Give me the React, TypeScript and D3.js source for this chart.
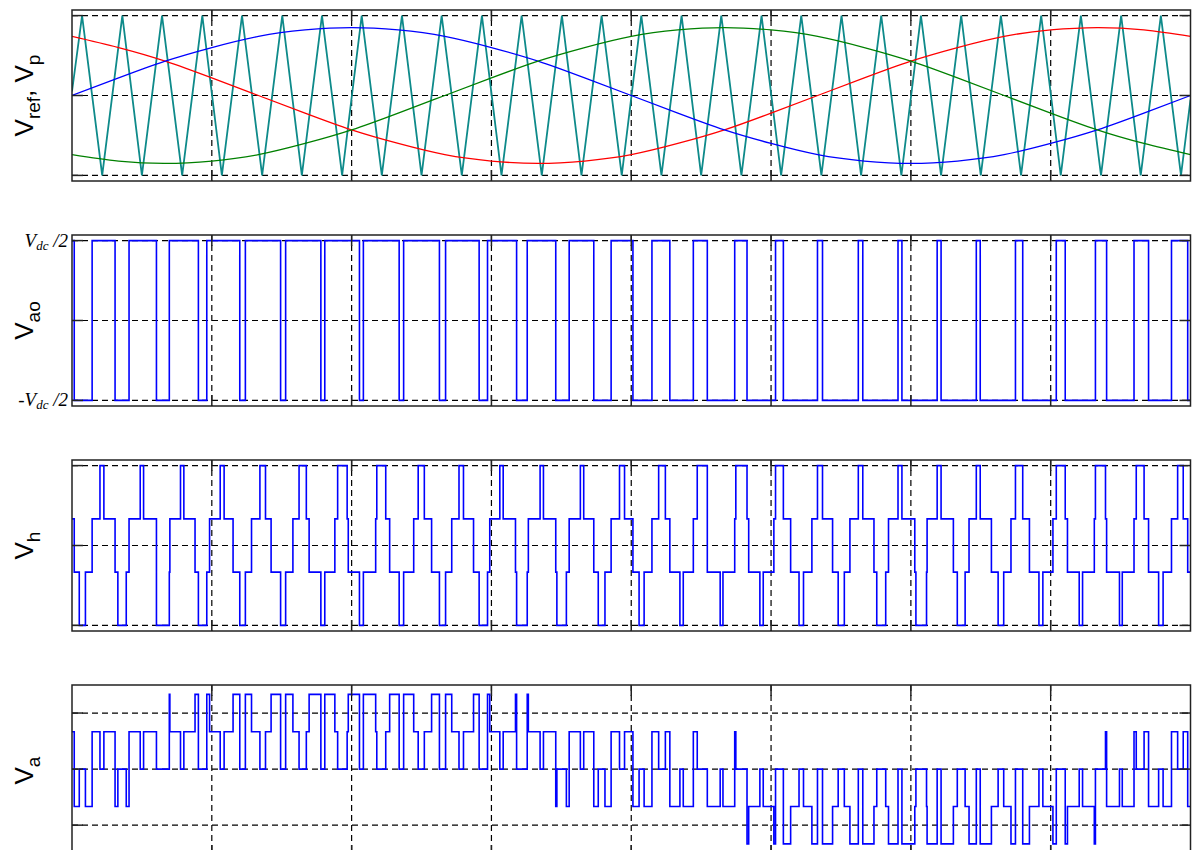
import React from "react";
import * as d3 from "d3";

// ---------- axes ----------
const T_END = 20; // ms, one fundamental period
const X_TICKS = [0, 2.5, 5, 7.5, 10, 12.5, 15, 17.5, 20];
const Y_TICKS = [-1, 0, 1];

// ---------- panel 1 : references and carrier ----------
const REF_ANGLES = [0, 15, 30, 45, 60, 75, 90, 105, 120, 135, 150, 165, 180, 195, 210, 225, 240, 255, 270, 285, 300, 315, 330, 345, 360];
const REF_BLUE = [0, 0.22, 0.43, 0.6, 0.74, 0.82, 0.85, 0.82, 0.74, 0.6, 0.43, 0.22, 0, -0.22, -0.43, -0.6, -0.74, -0.82, -0.85, -0.82, -0.74, -0.6, -0.43, -0.22, 0];
const REF_RED = [0.74, 0.6, 0.43, 0.22, 0, -0.22, -0.43, -0.6, -0.74, -0.82, -0.85, -0.82, -0.74, -0.6, -0.43, -0.22, 0, 0.22, 0.43, 0.6, 0.74, 0.82, 0.85, 0.82, 0.74];
const REF_GREEN = [-0.74, -0.82, -0.85, -0.82, -0.74, -0.6, -0.43, -0.22, 0, 0.22, 0.43, 0.6, 0.74, 0.82, 0.85, 0.82, 0.74, 0.6, 0.43, 0.22, 0, -0.22, -0.43, -0.6, -0.74];
const CARRIER_PEAKS = [0.18, 0.9, 1.61, 2.33, 3.04, 3.76, 4.47, 5.18, 5.9, 6.61, 7.33, 8.04, 8.76, 9.47, 10.18, 10.9, 11.61, 12.33, 13.04, 13.76, 14.47, 15.18, 15.9, 16.61, 17.33, 18.04, 18.76, 19.47];
const CARRIER_VALLEYS = [0.54, 1.25, 1.97, 2.68, 3.4, 4.11, 4.83, 5.54, 6.25, 6.97, 7.68, 8.4, 9.11, 9.83, 10.54, 11.25, 11.97, 12.68, 13.4, 14.11, 14.83, 15.54, 16.25, 16.97, 17.68, 18.4, 19.11, 19.83];
const CARRIER_START = 0.05;
const CARRIER_END = -0.05;

// ---------- leg switching: intervals (ms) where the leg sits at -Vdc/2 ----------
// leg a (blue reference) = V_ao of panel 2
const VAO_LOW: [number, number][] = [
  [0.04, 0.36], [0.77, 1.02], [1.51, 1.74], [2.26, 2.41], [3.0, 3.1], [3.73, 3.82], [4.45, 4.52],
  [5.14, 5.21], [5.85, 5.93], [6.57, 6.68], [7.28, 7.43], [7.95, 8.14], [8.65, 8.89], [9.33, 9.64],
  [10.03, 10.37], [10.69, 11.11], [11.36, 11.85], [12.07, 12.58], [12.72, 13.33], [13.42, 14.06],
  [14.14, 14.77], [14.84, 15.47], [15.54, 16.17], [16.24, 16.87], [17.0, 17.6], [17.76, 18.3],
  [18.5, 18.99], [19.25, 19.66], [19.95, 20],
];
// leg b (red reference crossings)
const VBO_LOW: [number, number][] = [
  [0.13, 0.24], [0.82, 0.97], [1.51, 1.75], [2.2, 2.46], [2.88, 3.21], [3.56, 3.95], [4.24, 4.7],
  [4.92, 5.45], [5.61, 6.19], [6.3, 6.92], [7.0, 7.65], [7.71, 8.37], [8.43, 9.09], [9.15, 9.79],
  [9.88, 10.49], [10.61, 11.18], [11.36, 11.87], [12.1, 12.55], [12.85, 13.23], [13.6, 13.91],
  [14.34, 14.6], [15.09, 15.28], [15.83, 15.97], [16.56, 16.66], [17.29, 17.36], [18.01, 18.07],
  [18.73, 18.78], [19.43, 19.51],
];
// leg c (green reference crossings)
const VCO_LOW: [number, number][] = [
  [0, 0.5], [0.57, 1.22], [1.28, 1.94], [2.0, 2.65], [2.72, 3.36], [3.46, 4.06], [4.19, 4.75],
  [4.94, 5.43], [5.68, 6.11], [6.43, 6.79], [7.18, 7.47], [7.93, 8.16], [8.67, 8.84], [9.41, 9.53],
  [10.14, 10.23], [10.87, 10.93], [11.59, 11.64], [12.3, 12.36], [13.0, 13.08], [13.7, 13.81],
  [14.39, 14.55], [15.07, 15.29], [15.76, 16.04], [16.44, 16.79], [17.12, 17.54], [17.8, 18.28],
  [18.48, 19.03], [19.17, 19.77], [19.87, 20],
];

const PANEL_TOPS = [10, 235, 460, 685];
const PANEL_H = 171;
const LEFT = 72;
const RIGHT = 1190.5;

type Pt = [number, number];

const legState = (lows: [number, number][], t: number) =>
  lows.some(([a, b]) => t >= a && t < b) ? -1 : 1;

// piecewise-constant segments of the three legs
function legSegments() {
  const times = Array.from(
    new Set([0, T_END, ...VAO_LOW.flat(), ...VBO_LOW.flat(), ...VCO_LOW.flat()])
  )
    .filter((t) => t >= 0 && t <= T_END)
    .sort(d3.ascending);
  return times.slice(0, -1).map((t0, i) => {
    const tm = (t0 + times[i + 1]) / 2;
    return {
      t: t0,
      a: legState(VAO_LOW, tm),
      b: legState(VBO_LOW, tm),
      c: legState(VCO_LOW, tm),
    };
  });
}

function Panel({ idx, yDomain, children, label, tickLabels }: any) {
  const top = PANEL_TOPS[idx];
  const x = d3.scaleLinear().domain([0, T_END]).range([LEFT, RIGHT]);
  const y = d3.scaleLinear().domain(yDomain).range([top + PANEL_H, top]);
  const clipId = `clip${idx}`;
  const tickLen = 11;
  return (
    <g>
      <defs>
        <clipPath id={clipId}>
          <rect x={LEFT} y={top} width={RIGHT - LEFT} height={PANEL_H} />
        </clipPath>
      </defs>
      <g stroke="#000" strokeWidth={1.2} strokeDasharray="6,4">
        {X_TICKS.slice(1, -1).map((t) => (
          <line key={"gx" + t} x1={x(t)} x2={x(t)} y1={top} y2={top + PANEL_H} />
        ))}
        {Y_TICKS.map((v) => (
          <line key={"gy" + v} x1={LEFT} x2={RIGHT} y1={y(v)} y2={y(v)} />
        ))}
      </g>
      <g clipPath={`url(#${clipId})`}>{children(x, y)}</g>
      <g stroke="#222" strokeWidth={1.5} fill="none">
        <rect x={LEFT} y={top} width={RIGHT - LEFT} height={PANEL_H} />
        {X_TICKS.slice(1, -1).map((t) => (
          <g key={"tx" + t}>
            <line x1={x(t)} x2={x(t)} y1={top} y2={top + tickLen} />
            <line x1={x(t)} x2={x(t)} y1={top + PANEL_H} y2={top + PANEL_H - tickLen} />
          </g>
        ))}
        {Y_TICKS.map((v) => (
          <g key={"ty" + v}>
            <line x1={LEFT} x2={LEFT + tickLen} y1={y(v)} y2={y(v)} />
            <line x1={RIGHT} x2={RIGHT - tickLen} y1={y(v)} y2={y(v)} />
          </g>
        ))}
      </g>
      <g transform={`translate(33, ${top + PANEL_H / 2}) rotate(-90)`}>
        <text textAnchor="middle" fontFamily="Liberation Sans, Arial, sans-serif" fontSize={26} fill="#000">
          {label}
        </text>
      </g>
      {tickLabels ? tickLabels(y) : null}
    </g>
  );
}

export default function App() {
  const line = (x: any, y: any, curve: any) =>
    d3.line<Pt>().x((d) => x(d[0])).y((d) => y(d[1])).curve(curve);

  const refPts = (vals: number[]): Pt[] => REF_ANGLES.map((a, i) => [(a / 360) * T_END, vals[i]]);
  const carrierPts: Pt[] = [
    [0, CARRIER_START] as Pt,
    ...CARRIER_PEAKS.map((t) => [t, 1] as Pt),
    ...CARRIER_VALLEYS.map((t) => [t, -1] as Pt),
    [T_END, CARRIER_END] as Pt,
  ].sort((a, b) => a[0] - b[0]);

  const endStep = (pts: Pt[]): Pt[] => [...pts, [T_END, pts[pts.length - 1][1]]];
  const segs = legSegments();
  const vaoPts: Pt[] = endStep(segs.map((s) => [s.t, s.a]));
  const vhPts: Pt[] = endStep(segs.map((s) => [s.t, (s.a + s.b + s.c) / 3]));
  const vaPts: Pt[] = endStep(segs.map((s) => [s.t, s.a - (s.a + s.b + s.c) / 3]));

  const sub = (s: string) => (
    <tspan fontSize={19} dy={7}>
      {s}
    </tspan>
  );

  return (
    <svg
      width={1192}
      height={850}
      style={{ position: "absolute", left: 0, top: 0, background: "#fff" }}
    >
      <Panel
        idx={0}
        yDomain={[-1.07, 1.07]}
        label={
          <>
            V{sub("ref")}
            <tspan dy={-7}>, V</tspan>
            {sub("p")}
          </>
        }
      >
        {(x: any, y: any) => (
          <g fill="none">
            <path d={line(x, y, d3.curveLinear)(carrierPts)!} stroke="#0e8a8a" strokeWidth={1.8} />
            <path d={line(x, y, d3.curveNatural)(refPts(REF_RED))!} stroke="#ff0000" strokeWidth={1.3} />
            <path d={line(x, y, d3.curveNatural)(refPts(REF_BLUE))!} stroke="#0000ff" strokeWidth={1.3} />
            <path d={line(x, y, d3.curveNatural)(refPts(REF_GREEN))!} stroke="#008000" strokeWidth={1.3} />
          </g>
        )}
      </Panel>
      <Panel
        idx={1}
        yDomain={[-1.07, 1.07]}
        label={<>V{sub("ao")}</>}
        tickLabels={(y: any) => (
          <g fontFamily="Liberation Serif, Times New Roman, serif" fontStyle="italic" fontSize={19} textAnchor="end">
            <text x={68} y={y(1) + 6}>
              V<tspan fontSize={13} dy={3}>dc</tspan>
              <tspan dy={-3}> /2</tspan>
            </text>
            <text x={68} y={y(-1) + 6}>
              -V<tspan fontSize={13} dy={3}>dc</tspan>
              <tspan dy={-3}> /2</tspan>
            </text>
          </g>
        )}
      >
        {(x: any, y: any) => (
          <path d={line(x, y, d3.curveStepAfter)(vaoPts)!} fill="none" stroke="#0000ff" strokeWidth={1.6} />
        )}
      </Panel>
      <Panel idx={2} yDomain={[-1.07, 1.07]} label={<>V{sub("h")}</>}>
        {(x: any, y: any) => (
          <path d={line(x, y, d3.curveStepAfter)(vhPts)!} fill="none" stroke="#0000ff" strokeWidth={1.6} />
        )}
      </Panel>
      <Panel idx={3} yDomain={[-1.55, 1.5]} label={<>V{sub("a")}</>}>
        {(x: any, y: any) => (
          <path d={line(x, y, d3.curveStepAfter)(vaPts)!} fill="none" stroke="#0000ff" strokeWidth={1.6} />
        )}
      </Panel>
    </svg>
  );
}
